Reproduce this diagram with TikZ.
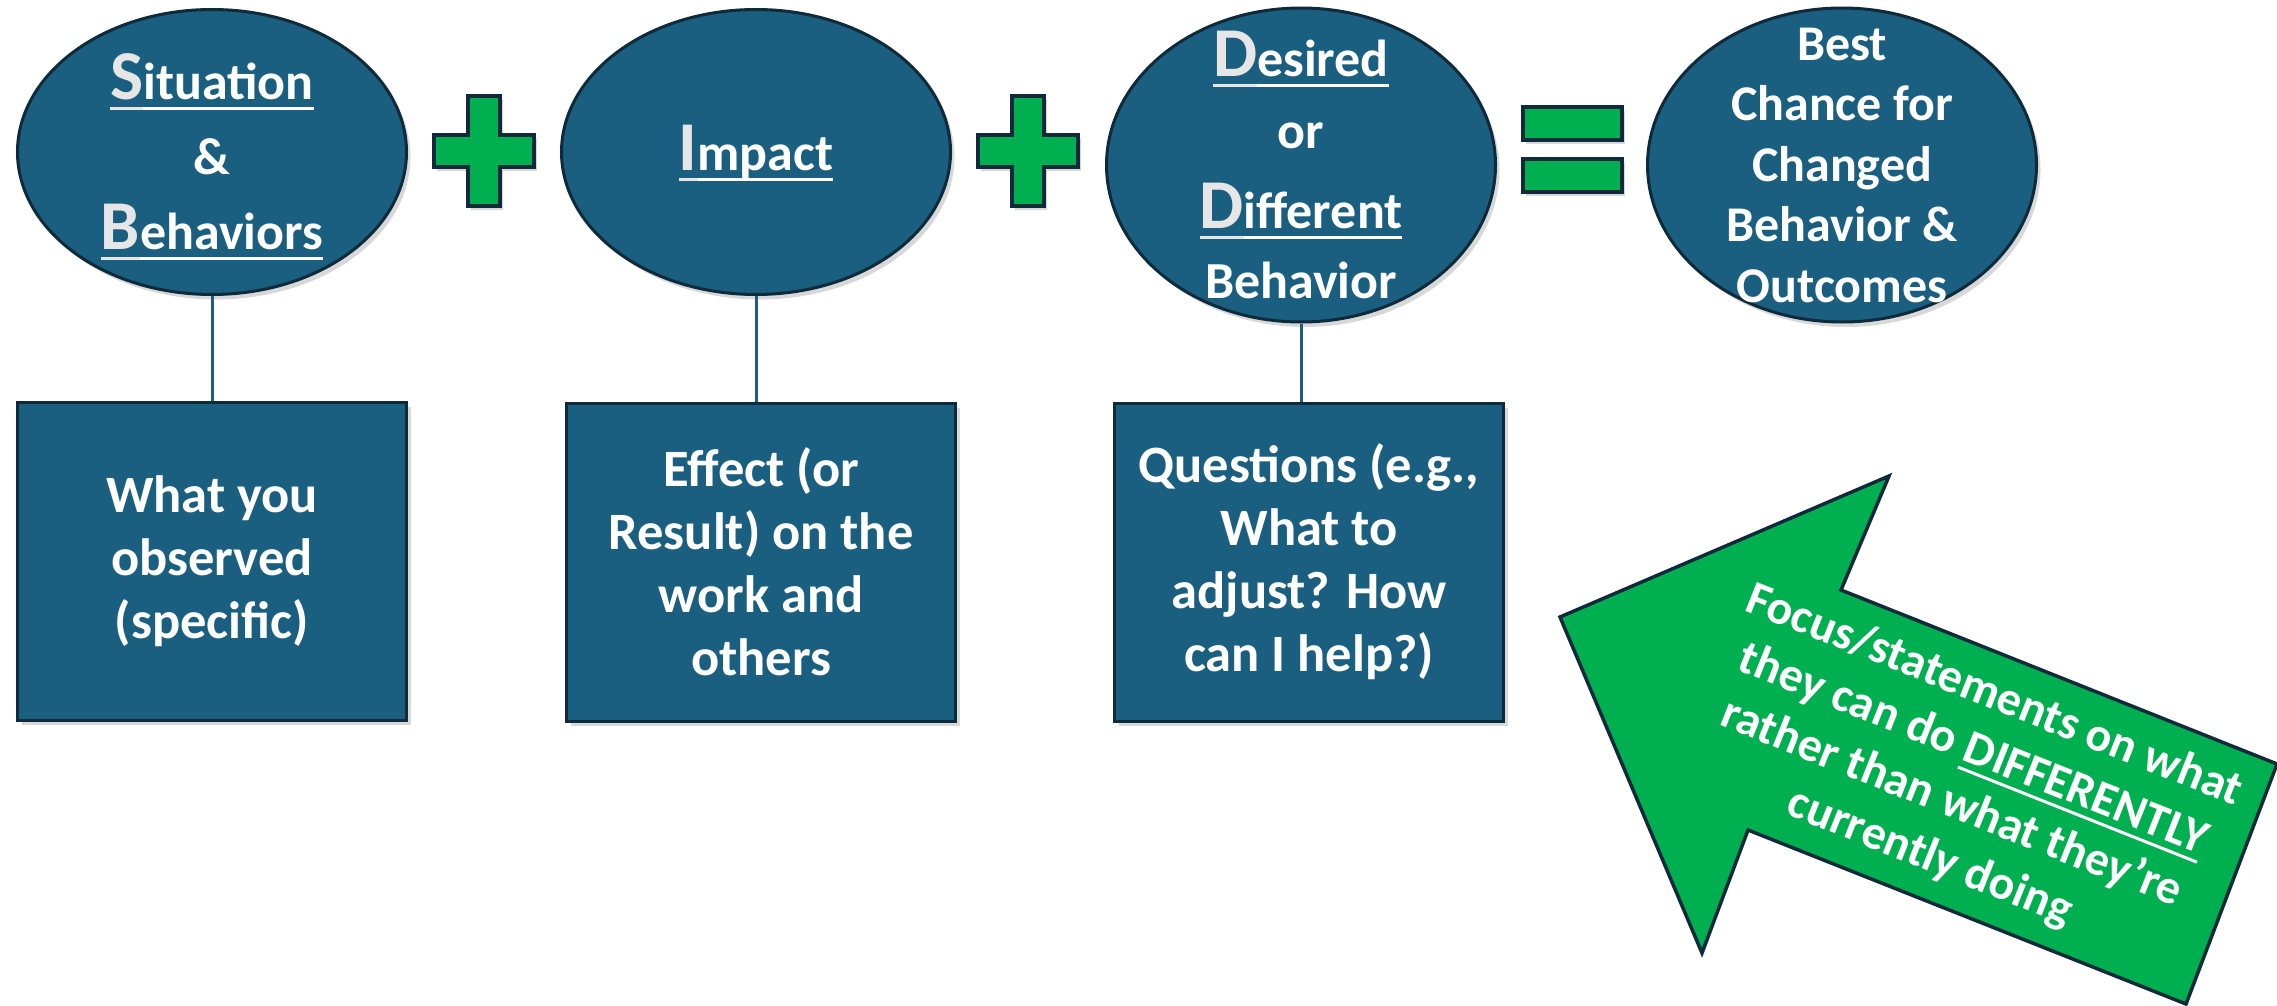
\documentclass[tikz,border=0pt]{standalone}
\usepackage{fontspec}
\setmainfont{Carlito}
\usetikzlibrary{shapes.geometric,shadows,positioning}

\definecolor{sbiblue}{HTML}{1A5F80}
\definecolor{sbiedge}{HTML}{0F2A3A}
\definecolor{sbigreen}{HTML}{00B050}
\definecolor{initgray}{HTML}{E6E6E6}

% underlined word, rule in colour #1
\newsavebox{\ulbox}
\newcommand{\ulword}[2]{\sbox{\ulbox}{#2}%
  \rlap{\smash{\textcolor{#1}{\rule[-10pt]{\wd\ulbox}{3pt}}}}\usebox{\ulbox}}
% big grey initial + rest of word
\newcommand{\bigini}[2]{\ulword{initgray}{\textcolor{initgray}{\fontsize{70}{70}\selectfont #1}}\ulword{white}{#2}}

\begin{document}
\begin{tikzpicture}[x=1pt, y=-1pt,
		bubble/.style={ellipse, draw=sbiedge, line width=3pt, fill=sbiblue,
			inner sep=-40pt, minimum width=389pt, minimum height=#1,
			text=white, align=center,
			drop shadow={shadow xshift=4pt, shadow yshift=-5pt, opacity=0.3}},
		notebox/.style={rectangle, draw=sbiedge, line width=3pt, fill=sbiblue,
			minimum width=389pt, minimum height=318pt, inner sep=0pt,
			text=white, align=center, font=\bfseries\fontsize{52.5}{63}\selectfont,
			drop shadow={shadow xshift=4pt, shadow yshift=-5pt, opacity=0.3}},
		sign/.style={draw=sbiedge, line width=4pt, fill=sbigreen, line join=miter,
			drop shadow={shadow xshift=3pt, shadow yshift=-4pt, opacity=0.3}},
		stem/.style={draw=sbiblue, line width=3pt},
		bigarrow/.style={draw=sbiedge, line width=3.5pt, fill=sbigreen, line join=miter},
		arrowtext/.style={text=white, align=center, font=\bfseries\fontsize{48}{58}\selectfont}
		]
		\useasboundingbox (0,0) rectangle (2277,1006);
		\fill[white] (0,0) rectangle (2277,1006);

		% top row
		\node[bubble=285pt, font=\bfseries\fontsize{52}{75}\selectfont] (S) at (212,152)
			{\bigini{S}{ituation}\\\&\\\bigini{B}{ehaviors}};
		\node[bubble=285pt, font=\bfseries\fontsize{52}{62}\selectfont] (I) at (756,152)
			{\bigini{I}{mpact}};
		\node[bubble=314pt, font=\bfseries\fontsize{52}{62}\selectfont] (D) at (1301,165)
			{\bigini{D}{esired}\\[10pt]or\\[18pt]\bigini{D}{ifferent}\\[8pt]Behavior};
		\node[bubble=314pt, font=\bfseries\fontsize{50}{60.5}\selectfont] (C) at (1842,165)
			{Best\\Chance for\\Changed\\Behavior \&\\Outcomes};

		% plus and equals signs
		\foreach \cx/\cy in {484/151, 1028/151}
			\draw[sign] (\cx-16,\cy-55) -- (\cx+16,\cy-55) -- (\cx+16,\cy-16) -- (\cx+50,\cy-16)
				-- (\cx+50,\cy+16) -- (\cx+16,\cy+16) -- (\cx+16,\cy+55) -- (\cx-16,\cy+55)
				-- (\cx-16,\cy+16) -- (\cx-50,\cy+16) -- (\cx-50,\cy-16) -- (\cx-16,\cy-16) -- cycle;
		\draw[sign] (1523,107) rectangle (1622,140);
		\draw[sign] (1523,159) rectangle (1622,192);

		% boxes below
		\node[notebox] (SB) at (212,561) {What you\\observed\\(specific)};
		\node[notebox] (IB) at (761,562) {Effect (or\\Result) on the\\work and\\others};
		\node[notebox] (DB) at (1309,562) {Questions (e.g.,\\What to\\adjust? How\\can I help?)};

		\draw[stem] (S.south) -- (S.south |- SB.north);
		\draw[stem] (I.south) -- (I.south |- IB.north);
		\draw[stem] (D.south) -- (D.south |- DB.north);

		% green arrow
		\draw[bigarrow] (1560,617) -- (1889,476) -- (1841,590) -- (2277,764)
			-- (2186,1004) -- (1748,830) -- (1702,953) -- cycle;
		\node[arrowtext, rotate=-21.7] (F) at (1962,777)
			{Focus/statements on what\\they can do \ulword{white}{DIFFERENTLY}\\rather than what they’re\\currently doing};
	\end{tikzpicture}
\end{document}
